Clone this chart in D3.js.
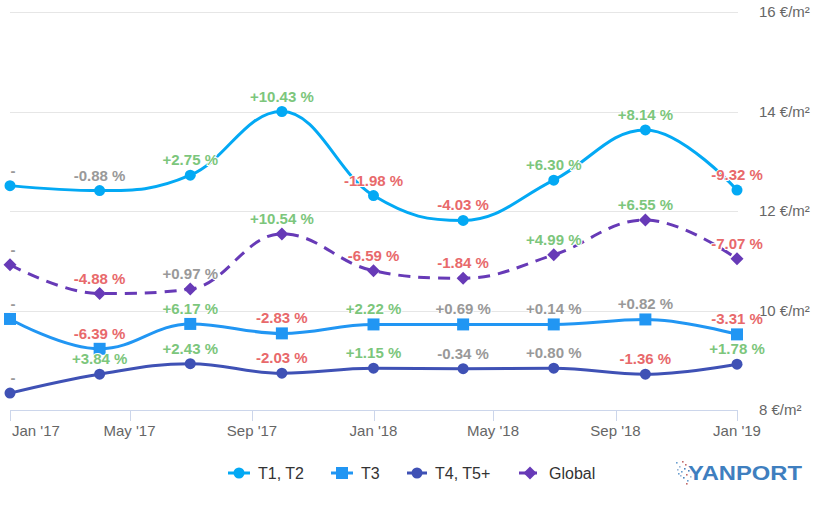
<!DOCTYPE html>
<html>
<head>
<meta charset="utf-8">
<script src="https://cdn.jsdelivr.net/npm/d3@7"></script>
<style>
  html, body { margin: 0; padding: 0; background: #fff; }
  svg { display: block; font-family: "Liberation Sans", Arial, sans-serif; }
</style>
</head>
<body>
<div id="chart"></div>
<script>
// ---- Data ----
const dates = ["2017-01-01","2017-04-01","2017-07-01","2017-10-01","2018-01-01","2018-04-01","2018-07-01","2018-10-01","2019-01-01"];
const seriesNames = ["T1, T2", "T3", "T4, T5+", "Global"];
const t1t2Values  = [12.51, 12.41, 12.72, 14.00, 12.31, 11.81, 12.62, 13.63, 12.42];
const t3Values    = [9.83, 9.23, 9.73, 9.54, 9.72, 9.72, 9.72, 9.82, 9.52];
const t4Values    = [8.34, 8.72, 8.93, 8.74, 8.84, 8.83, 8.84, 8.72, 8.92];
const globalValues= [10.92, 10.34, 10.43, 11.54, 10.80, 10.65, 11.12, 11.82, 11.04];
const t1t2Labels  = ["-", "-0.88 %", "+2.75 %", "+10.43 %", "-11.98 %", "-4.03 %", "+6.30 %", "+8.14 %", "-9.32 %"];
const t3Labels    = ["-", "-6.39 %", "+6.17 %", "-2.83 %", "+2.22 %", "+0.69 %", "+0.14 %", "+0.82 %", "-3.31 %"];
const t4Labels    = ["-", "+3.84 %", "+2.43 %", "-2.03 %", "+1.15 %", "-0.34 %", "+0.80 %", "-1.36 %", "+1.78 %"];
const globalLabels= ["-", "-4.88 %", "+0.97 %", "+10.54 %", "-6.59 %", "-1.84 %", "+4.99 %", "+6.55 %", "-7.07 %"];
const xTickDates  = ["2017-01-01","2017-05-01","2017-09-01","2018-01-01","2018-05-01","2018-09-01","2019-01-01"];
const yTicks      = [8, 10, 12, 14, 16];

const series = [
  { name: seriesNames[0], values: t1t2Values,  labels: t1t2Labels,  color: "#03a9f4", marker: "circle",  dash: null },
  { name: seriesNames[1], values: t3Values,    labels: t3Labels,    color: "#2196f3", marker: "square",  dash: null },
  { name: seriesNames[2], values: t4Values,    labels: t4Labels,    color: "#3f51b5", marker: "circle",  dash: null },
  { name: seriesNames[3], values: globalValues,labels: globalLabels,color: "#673ab7", marker: "diamond", dash: "12,8" }
];

// ---- Layout ----
const W = 829, H = 510;
const parse = d3.utcParse("%Y-%m-%d");
const fmtTick = d3.utcFormat("%b '%y");

const x = d3.scaleUtc().domain([parse(dates[0]), parse(dates[dates.length-1])]).range([10, 737]);
const y = d3.scaleLinear().domain([8, 16]).range([410, 12]);

const svg = d3.select("#chart").append("svg").attr("width", W).attr("height", H);

// grid
svg.append("g").selectAll("line").data(yTicks.filter(d => d !== 8)).join("line")
  .attr("x1", 10).attr("x2", 738)
  .attr("y1", d => Math.round(y(d)) + 0.5).attr("y2", d => Math.round(y(d)) + 0.5)
  .attr("stroke", "#e6e6e6").attr("stroke-width", 1);

// y labels (right)
svg.append("g").selectAll("text").data(yTicks).join("text")
  .attr("x", 759).attr("y", d => y(d) + 5)
  .attr("font-size", 15).attr("fill", "#666")
  .text(d => d + " €/m²");

// x axis line
svg.append("line").attr("x1", 10).attr("x2", 738)
  .attr("y1", Math.round(y(8)) + 0.5).attr("y2", Math.round(y(8)) + 0.5)
  .attr("stroke", "#ccd6eb").attr("stroke-width", 1);

// x ticks
const xt = svg.append("g").selectAll("g").data(xTickDates.map(parse)).join("g");
xt.append("line")
  .attr("x1", d => Math.round(x(d)) + 0.5).attr("x2", d => Math.round(x(d)) + 0.5)
  .attr("y1", y(8)).attr("y2", y(8) + 11)
  .attr("stroke", "#ccd6eb");
xt.append("text")
  .attr("x", (d, i) => i === 0 ? 12 : x(d))
  .attr("y", 436)
  .attr("text-anchor", (d, i) => i === 0 ? "start" : "middle")
  .attr("font-size", 15).attr("fill", "#666")
  .text(d => fmtTick(d));

// Highcharts-like spline path
function splinePath(pts) {
  const smoothing = 1.5, denom = smoothing + 1;
  let d = "";
  const rc = [];
  for (let i = 0; i < pts.length; i++) {
    const [px, py] = pts[i];
    let lcx, lcy, rcx, rcy;
    const last = pts[i-1], next = pts[i+1];
    if (last && next) {
      const [lx, ly] = last, [nx, ny] = next;
      lcx = (smoothing * px + lx) / denom;
      lcy = (smoothing * py + ly) / denom;
      rcx = (smoothing * px + nx) / denom;
      rcy = (smoothing * py + ny) / denom;
      let corr = 0;
      if (rcx !== lcx) corr = ((rcy - lcy) * (rcx - px)) / (rcx - lcx) + py - rcy;
      lcy += corr; rcy += corr;
      if (lcy > ly && lcy > py) { lcy = Math.max(ly, py); rcy = 2 * py - lcy; }
      else if (lcy < ly && lcy < py) { lcy = Math.min(ly, py); rcy = 2 * py - lcy; }
      if (rcy > ny && rcy > py) { rcy = Math.max(ny, py); lcy = 2 * py - rcy; }
      else if (rcy < ny && rcy < py) { rcy = Math.min(ny, py); lcy = 2 * py - rcy; }
      rc[i] = [rcx, rcy];
    }
    if (i === 0) d += `M${px},${py}`;
    else {
      const c1 = rc[i-1] || pts[i-1];
      const c2 = (lcx !== undefined) ? [lcx, lcy] : [px, py];
      d += `C${c1[0]},${c1[1]} ${c2[0]},${c2[1]} ${px},${py}`;
    }
  }
  return d;
}

function markerPath(type, cx, cy) {
  if (type === "circle") { const r = 5.5; return `M${cx-r},${cy}a${r},${r} 0 1,0 ${2*r},0a${r},${r} 0 1,0 ${-2*r},0Z`; }
  if (type === "square") { const s = 6; return `M${cx-s},${cy-s}h${2*s}v${2*s}h${-2*s}Z`; }
  const s = 6.5; return `M${cx},${cy-s}L${cx+s},${cy}L${cx},${cy+s}L${cx-s},${cy}Z`;
}

function labelColor(t) {
  if (t === "-") return "#999999";
  const v = parseFloat(t);
  if (Math.abs(v) < 1) return "#999999";
  return v > 0 ? "#7cc67c" : "#e8696b";
}

const gLines = svg.append("g");
const gLabels = svg.append("g");

series.forEach(s => {
  const pts = s.values.map((v, i) => [x(parse(dates[i])), y(v)]);
  gLines.append("path").attr("d", splinePath(pts))
    .attr("fill", "none").attr("stroke", s.color).attr("stroke-width", 3)
    .attr("stroke-dasharray", s.dash).attr("stroke-linecap", s.dash ? "butt" : "round");
  gLines.append("g").selectAll("path").data(pts).join("path")
    .attr("d", p => markerPath(s.marker, p[0], p[1])).attr("fill", s.color);
  gLabels.append("g").selectAll("text").data(s.labels).join("text")
    .attr("x", (t, i) => i === 0 ? pts[i][0] + 3 : pts[i][0])
    .attr("y", (t, i) => pts[i][1] - 10)
    .attr("text-anchor", "middle")
    .attr("font-size", 15).attr("font-weight", "bold")
    .attr("fill", t => labelColor(t))
    .attr("stroke", "#fff").attr("stroke-width", 2).attr("stroke-linejoin", "round")
    .attr("paint-order", "stroke")
    .text(t => t);
});

// legend
const legendX = [228, 331, 407, 519];
const legendW = [22, 22, 20, 22];
const lg = svg.append("g").selectAll("g").data(series).join("g");
lg.append("line")
  .attr("x1", (d, i) => legendX[i]).attr("x2", (d, i) => legendX[i] + legendW[i])
  .attr("y1", 473).attr("y2", 473)
  .attr("stroke", d => d.color).attr("stroke-width", 3)
  .attr("stroke-dasharray", d => d.dash ? "7,4" : null);
lg.append("path")
  .attr("d", (d, i) => markerPath(d.marker, legendX[i] + legendW[i] / 2, 473))
  .attr("fill", d => d.color);
lg.append("text")
  .attr("x", (d, i) => legendX[i] + legendW[i] + 8).attr("y", 479)
  .attr("font-size", 16).attr("fill", "#333")
  .text(d => d.name);

// logo
const logo = svg.append("g");
const dotPts = [[676,462],[679,466],[682,461],[684,468],[681,471],[677,469],[686,474],[683,477],[687,480],[680,475],[685,464],[688,470],[678,473],[690,476],[686,483]];
logo.selectAll("rect").data(dotPts).join("rect")
  .attr("x", d => d[0]).attr("y", d => d[1]).attr("width", 1.6).attr("height", 1.6)
  .attr("fill", (d, i) => ["#6a9fd0", "#9bb7d8", "#c46a6a", "#4f86c0"][i % 4]);
logo.append("text").attr("x", 688).attr("y", 480)
  .attr("font-size", 20).attr("font-weight", "bold").attr("fill", "#3f7fbf")
  .attr("textLength", 114).attr("lengthAdjust", "spacingAndGlyphs")
  .text("YANPORT");
</script>
</body>
</html>
